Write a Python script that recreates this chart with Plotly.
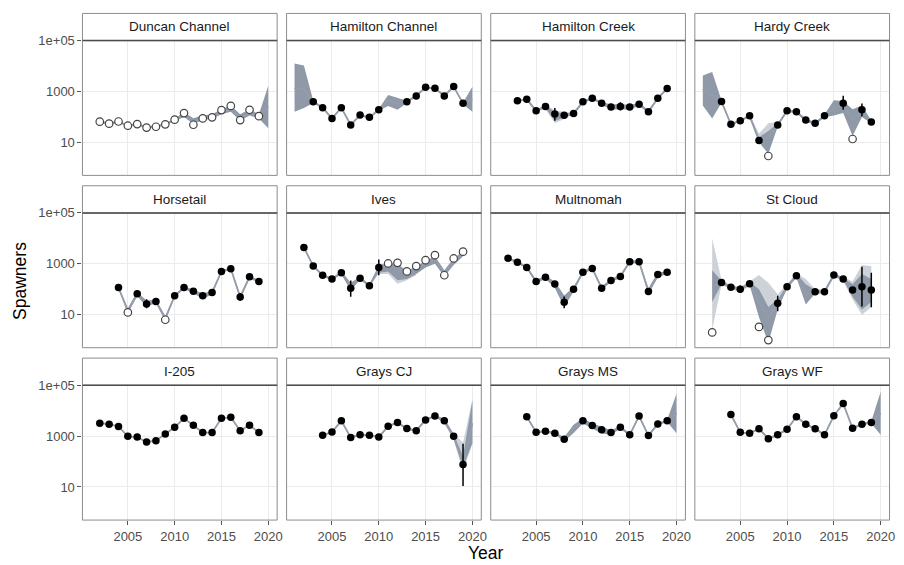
import numpy as np
import plotly.graph_objects as go

# ---------------- data ----------------
panel_names = ["Duncan Channel", "Hamilton Channel", "Hamilton Creek", "Hardy Creek",
               "Horsetail", "Ives", "Multnomah", "St Cloud",
               "I-205", "Grays CJ", "Grays MS", "Grays WF"]
x_ticks = [2005, 2010, 2015, 2020]
y_ticks = [10, 1000, 100000]
y_tick_text = ["10", "1000", "1e+05"]

# Duncan Channel
dc_fill_years, dc_fill = [], []
dc_open_years = list(range(2002, 2020))
dc_open = [65, 54, 66, 45, 52, 38, 41, 51, 78, 141, 49, 87, 96, 185, 270, 75, 190, 107]
dc_err_years, dc_err_lo, dc_err_hi = [], [], []
dc_fit_years = list(range(2002, 2021))
dc_fit_log10 = [1.81, 1.74, 1.81, 1.66, 1.71, 1.59, 1.62, 1.71, 1.88, 2.10, 1.78, 1.96, 2.01, 2.20, 2.33, 1.97, 2.18, 2.02, 2.40]
dc_lo_log10 = [1.77, 1.70, 1.77, 1.62, 1.67, 1.55, 1.58, 1.67, 1.83, 2.00, 1.72, 1.88, 1.93, 2.10, 2.20, 1.85, 2.05, 1.94, 1.55]
dc_hi_log10 = [1.85, 1.78, 1.85, 1.70, 1.75, 1.63, 1.66, 1.75, 1.93, 2.18, 1.95, 2.05, 2.10, 2.30, 2.45, 2.10, 2.30, 2.10, 3.22]
dc_light_years, dc_light_lo_log10, dc_light_hi_log10 = [], [], []

# Hamilton Channel
hc_fill_years = [2003, 2004, 2005, 2006, 2007, 2008, 2009, 2010, 2013, 2014, 2015, 2016, 2017, 2018, 2019]
hc_fill = [390, 230, 87, 230, 48, 118, 96, 190, 390, 670, 1450, 1330, 670, 1550, 340]
hc_open_years, hc_open = [], []
hc_err_years, hc_err_lo, hc_err_hi = [], [], []
hc_fit_years = list(range(2001, 2021))
hc_fit_log10 = [3.10, 3.10, 2.59, 2.36, 1.94, 2.36, 1.68, 2.07, 1.98, 2.28, 2.65, 2.52, 2.59, 2.83, 3.16, 3.12, 2.83, 3.19, 2.53, 2.70]
hc_lo_log10 = [2.20, 2.35, 2.55, 2.32, 1.90, 2.32, 1.64, 2.03, 1.94, 2.24, 2.43, 2.28, 2.55, 2.79, 3.12, 3.08, 2.79, 3.15, 2.49, 2.20]
hc_hi_log10 = [4.10, 4.02, 2.63, 2.40, 1.98, 2.40, 1.72, 2.11, 2.02, 2.32, 2.86, 2.76, 2.63, 2.87, 3.20, 3.16, 2.87, 3.23, 2.57, 3.18]
hc_light_years, hc_light_lo_log10, hc_light_hi_log10 = [], [], []

# Hamilton Creek
hk_fill_years = list(range(2003, 2020))
hk_fill = [427, 490, 174, 257, 129, 117, 136, 390, 540, 344, 247, 257, 247, 316, 158, 540, 1320]
hk_open_years, hk_open = [], []
hk_err_years, hk_err_lo, hk_err_hi = [2007, 2014], [71, 178], [224, 372]
hk_fit_years = list(range(2003, 2020))
hk_fit_log10 = [2.63, 2.69, 2.24, 2.41, 2.10, 2.07, 2.13, 2.59, 2.73, 2.54, 2.39, 2.41, 2.39, 2.50, 2.20, 2.73, 3.12]
hk_lo_log10 = [2.59, 2.65, 2.19, 2.35, 1.85, 1.98, 2.07, 2.54, 2.69, 2.48, 2.29, 2.29, 2.29, 2.44, 2.14, 2.68, 3.08]
hk_hi_log10 = [2.67, 2.73, 2.29, 2.47, 2.18, 2.14, 2.19, 2.64, 2.77, 2.59, 2.49, 2.51, 2.47, 2.55, 2.27, 2.78, 3.16]
hk_light_years = [2006, 2007, 2008]
hk_light_lo_log10 = [2.30, 1.75, 1.92]
hk_light_hi_log10 = [2.50, 2.25, 2.20]

# Hardy Creek
hd_fill_years = [2003, 2004, 2005, 2006, 2007, 2009, 2010, 2011, 2012, 2013, 2014, 2016, 2018, 2019]
hd_fill = [400, 51, 71, 110, 11.7, 48, 174, 158, 75, 56, 110, 346, 190, 63]
hd_open_years, hd_open = [2008, 2017], [2.9, 13.5]
hd_err_years, hd_err_lo, hd_err_hi = [2016, 2018], [191, 105], [676, 339]
hd_fit_years = list(range(2001, 2020))
hd_fit_log10 = [3.10, 2.85, 2.60, 1.71, 1.85, 2.04, 1.07, 1.20, 1.68, 2.24, 2.20, 1.87, 1.74, 2.04, 2.35, 2.45, 1.90, 2.25, 1.80]
hd_lo_log10 = [2.45, 1.94, 2.56, 1.66, 1.81, 1.99, 1.00, 0.55, 1.61, 2.19, 2.15, 1.81, 1.69, 1.99, 2.05, 2.15, 1.25, 2.00, 1.75]
hd_hi_log10 = [3.63, 3.76, 2.64, 1.76, 1.89, 2.09, 1.20, 1.45, 1.74, 2.29, 2.25, 1.94, 1.79, 2.09, 2.65, 2.62, 2.30, 2.45, 1.85]
hd_light_years = [2006, 2007, 2008, 2009]
hd_light_lo_log10 = [1.98, 1.00, 1.20, 1.60]
hd_light_hi_log10 = [2.10, 1.35, 1.75, 1.80]

# Horsetail
hs_fill_years = [2004, 2006, 2007, 2008, 2010, 2011, 2012, 2013, 2014, 2015, 2016, 2017, 2018, 2019]
hs_fill = [116, 66, 26, 33, 55, 116, 83, 55, 74, 500, 640, 49, 310, 200]
hs_open_years, hs_open = [2005, 2009], [12.3, 6.3]
hs_err_years, hs_err_lo, hs_err_hi = [2006, 2007, 2017], [50, 18, 35], [89, 40, 71]
hs_fit_years = list(range(2004, 2020))
hs_fit_log10 = [2.065, 1.15, 1.82, 1.45, 1.52, 0.85, 1.74, 2.065, 1.92, 1.74, 1.87, 2.70, 2.81, 1.69, 2.49, 2.30]
hs_lo_log10 = [2.03, 1.05, 1.72, 1.32, 1.45, 0.75, 1.69, 2.01, 1.84, 1.63, 1.79, 2.65, 2.77, 1.61, 2.43, 2.25]
hs_hi_log10 = [2.10, 1.25, 1.90, 1.55, 1.60, 0.95, 1.79, 2.11, 1.99, 1.83, 1.94, 2.75, 2.85, 1.77, 2.54, 2.35]
hs_light_years, hs_light_lo_log10, hs_light_hi_log10 = [], [], []

# Ives
iv_fill_years = list(range(2002, 2011))
iv_fill = [4340, 810, 355, 253, 445, 110, 270, 138, 720]
iv_open_years = list(range(2011, 2020))
iv_open = [1030, 1090, 500, 810, 1390, 2180, 355, 1620, 3000]
iv_err_years, iv_err_lo, iv_err_hi = [2007, 2010], [51, 355], [219, 1480]
iv_fit_years = list(range(2002, 2020))
iv_fit_log10 = [3.64, 2.91, 2.55, 2.40, 2.65, 2.10, 2.43, 2.14, 2.80, 2.95, 2.85, 2.62, 2.80, 3.00, 3.20, 2.62, 3.10, 3.40]
iv_lo_log10 = [3.61, 2.87, 2.50, 2.35, 2.59, 1.95, 2.37, 2.09, 2.65, 2.70, 2.35, 2.40, 2.60, 2.85, 3.00, 2.50, 2.95, 3.30]
iv_hi_log10 = [3.67, 2.95, 2.59, 2.45, 2.71, 2.25, 2.49, 2.19, 2.95, 3.02, 3.00, 2.72, 2.90, 3.12, 3.30, 2.75, 3.22, 3.48]
iv_light_years = [2010, 2011, 2012, 2013, 2014]
iv_light_lo_log10 = [2.60, 2.60, 2.22, 2.35, 2.55]
iv_light_hi_log10 = [2.95, 3.00, 2.95, 2.70, 2.90]

# Multnomah
mu_fill_years = list(range(2002, 2020))
mu_fill = [1660, 1150, 720, 200, 295, 160, 31, 100, 470, 660, 110, 218, 315, 1200, 1200, 81, 380, 460]
mu_open_years, mu_open = [], []
mu_err_years, mu_err_lo, mu_err_hi = [2008], [18], [52]
mu_fit_years = list(range(2002, 2020))
mu_fit_log10 = [3.22, 3.06, 2.86, 2.30, 2.47, 2.20, 1.50, 2.00, 2.67, 2.82, 2.04, 2.34, 2.50, 3.08, 3.08, 1.91, 2.58, 2.66]
mu_lo_log10 = [3.18, 3.01, 2.81, 2.23, 2.41, 2.05, 1.30, 1.91, 2.61, 2.77, 1.98, 2.28, 2.44, 3.03, 3.01, 1.80, 2.46, 2.61]
mu_hi_log10 = [3.26, 3.11, 2.91, 2.37, 2.53, 2.30, 1.75, 2.09, 2.73, 2.87, 2.11, 2.41, 2.57, 3.13, 3.13, 2.05, 2.66, 2.71]
mu_light_years, mu_light_lo_log10, mu_light_hi_log10 = [], [], []

# St Cloud
sc_fill_years = [2003, 2004, 2005, 2006, 2009, 2010, 2011, 2013, 2014, 2015, 2016, 2017, 2018, 2019]
sc_fill = [185, 120, 100, 165, 28, 125, 340, 80, 80, 360, 250, 94, 125, 94]
sc_open_years, sc_open = [2002, 2007, 2008], [2.0, 3.3, 1.0]
sc_err_years = [2005, 2009, 2018, 2019]
sc_err_lo = [71, 13.5, 21, 19.5]
sc_err_hi = [141, 56, 760, 447]
sc_fit_years = list(range(2002, 2020))
sc_fit_log10 = [2.10, 2.27, 2.08, 2.00, 2.22, 1.50, 0.90, 1.45, 2.10, 2.53, 1.80, 1.90, 1.90, 2.56, 2.40, 1.97, 2.10, 1.97]
sc_lo_log10 = [1.50, 2.21, 2.03, 1.94, 2.16, 0.90, -0.10, 1.20, 2.03, 2.46, 1.40, 1.83, 1.85, 2.51, 2.35, 1.70, 1.20, 1.50]
sc_hi_log10 = [2.75, 2.33, 2.13, 2.06, 2.28, 2.00, 1.30, 1.60, 2.17, 2.60, 2.20, 1.97, 1.95, 2.61, 2.45, 2.20, 2.60, 2.40]
sc_light_years = list(range(2002, 2020))
sc_light_lo_log10 = [0.40, 2.18, 2.00, 1.90, 2.12, 1.60, 1.00, 1.35, 2.00, 2.45, 1.60, 1.80, 1.82, 2.48, 2.32, 1.60, 1.00, 1.30]
sc_light_hi_log10 = [4.00, 2.36, 2.16, 2.10, 2.30, 2.56, 2.25, 1.80, 2.20, 2.62, 2.40, 2.00, 1.98, 2.64, 2.48, 2.30, 2.95, 2.90]

# I-205
i2_fill_years = list(range(2002, 2020))
i2_fill = [3240, 2950, 2400, 980, 920, 585, 660, 1200, 2240, 5000, 2690, 1390, 1390, 5000, 5500, 1620, 2690, 1390]
i2_open_years, i2_open = [], []
i2_err_years, i2_err_lo, i2_err_hi = [], [], []
i2_fit_years = list(range(2002, 2020))
i2_fit_log10 = [3.51, 3.47, 3.38, 2.99, 2.96, 2.77, 2.82, 3.08, 3.35, 3.70, 3.43, 3.14, 3.14, 3.70, 3.74, 3.21, 3.43, 3.14]
i2_lo_log10 = [3.50, 3.46, 3.37, 2.98, 2.95, 2.76, 2.81, 3.07, 3.34, 3.69, 3.42, 3.13, 3.13, 3.69, 3.73, 3.20, 3.42, 3.13]
i2_hi_log10 = [3.52, 3.48, 3.39, 3.00, 2.97, 2.78, 2.83, 3.09, 3.36, 3.71, 3.44, 3.15, 3.15, 3.71, 3.75, 3.22, 3.44, 3.15]
i2_light_years, i2_light_lo_log10, i2_light_hi_log10 = [], [], []

# Grays CJ
gc_fill_years = list(range(2004, 2020))
gc_fill = [1070, 1440, 4000, 890, 1120, 1070, 920, 2450, 3400, 1990, 1620, 4340, 6200, 4000, 980, 76]
gc_open_years, gc_open = [], []
gc_err_years, gc_err_lo, gc_err_hi = [2019], [11], [500]
gc_fit_years = list(range(2004, 2021))
gc_fit_log10 = [3.03, 3.16, 3.60, 2.95, 3.05, 3.03, 2.96, 3.39, 3.53, 3.30, 3.21, 3.64, 3.79, 3.60, 2.99, 1.90, 3.50]
gc_lo_log10 = [3.00, 3.13, 3.56, 2.91, 3.01, 3.00, 2.92, 3.35, 3.49, 3.26, 3.17, 3.60, 3.75, 3.52, 2.90, 1.80, 2.73]
gc_hi_log10 = [3.06, 3.19, 3.64, 2.99, 3.09, 3.06, 3.00, 3.43, 3.57, 3.34, 3.25, 3.68, 3.83, 3.68, 3.08, 2.20, 4.40]
gc_light_years = [2017, 2018, 2019, 2020]
gc_light_lo_log10 = [3.50, 2.85, 1.60, 2.70]
gc_light_hi_log10 = [3.70, 3.10, 2.75, 4.45]

# Grays MS
gm_fill_years = [2004, 2005, 2006, 2007, 2008, 2010, 2011, 2012, 2013, 2014, 2015, 2016, 2017, 2018, 2019]
gm_fill = [5800, 1410, 1540, 1290, 760, 4000, 2600, 1780, 1380, 2240, 1120, 6200, 1050, 3000, 4000]
gm_open_years, gm_open = [], []
gm_err_years, gm_err_lo, gm_err_hi = [2012], [1320], [2400]
gm_fit_years = list(range(2004, 2021))
gm_fit_log10 = [3.76, 3.15, 3.19, 3.11, 2.88, 3.30, 3.60, 3.41, 3.25, 3.14, 3.35, 3.05, 3.79, 3.02, 3.48, 3.60, 3.90]
gm_lo_log10 = [3.73, 3.11, 3.15, 3.06, 2.80, 3.12, 3.50, 3.30, 3.10, 3.05, 3.29, 3.00, 3.74, 2.97, 3.43, 3.56, 3.11]
gm_hi_log10 = [3.79, 3.19, 3.23, 3.16, 2.96, 3.45, 3.70, 3.50, 3.38, 3.22, 3.41, 3.10, 3.84, 3.07, 3.53, 3.64, 4.67]
gm_light_years, gm_light_lo_log10, gm_light_hi_log10 = [], [], []

# Grays WF
gw_fill_years = list(range(2004, 2020))
gw_fill = [7100, 1410, 1290, 1950, 790, 1120, 1860, 5800, 2950, 1950, 1120, 6300, 19000, 2040, 2950, 3470]
gw_open_years, gw_open = [], []
gw_err_years, gw_err_lo, gw_err_hi = [], [], []
gw_fit_years = list(range(2004, 2021))
gw_fit_log10 = [3.85, 3.15, 3.11, 3.29, 2.90, 3.05, 3.27, 3.76, 3.47, 3.29, 3.05, 3.80, 4.28, 3.31, 3.47, 3.54, 3.90]
gw_lo_log10 = [3.83, 3.12, 3.08, 3.25, 2.85, 3.01, 3.23, 3.72, 3.43, 3.25, 3.01, 3.76, 4.24, 3.27, 3.43, 3.50, 3.05]
gw_hi_log10 = [3.87, 3.18, 3.14, 3.33, 2.95, 3.09, 3.31, 3.80, 3.51, 3.33, 3.09, 3.84, 4.32, 3.35, 3.51, 3.58, 4.74]
gw_light_years, gw_light_lo_log10, gw_light_hi_log10 = [], [], []

prefixes = ["dc", "hc", "hk", "hd", "hs", "iv", "mu", "sc", "i2", "gc", "gm", "gw"]
g = globals()
panels = []
for p in prefixes:
    panels.append({k: g[f"{p}_{k}"] for k in [
        "fill_years", "fill", "open_years", "open", "err_years", "err_lo", "err_hi",
        "fit_years", "fit_log10", "lo_log10", "hi_log10",
        "light_years", "light_lo_log10", "light_hi_log10"]})

# ---------------- layout ----------------
W, H = 904, 565
col_left = [83, 288.5, 494, 699.5]
pw = 196
row_top = [34, 208.5, 383]
ph = 136.5
strip_h = 27.5
FONT = "Liberation Sans, Arial, sans-serif"

DARK = "#8f99a7"
LIGHT = "#cdd2d9"
LINE = "#939dab"

fig = go.Figure()
shapes, annotations = [], []
layout = {}


def band(xs, lo, hi):
    xs = list(xs)
    return xs + xs[::-1], list(10 ** np.array(hi)) + list(10 ** np.array(lo))[::-1]


for i, (name, d) in enumerate(zip(panel_names, panels)):
    r, c = divmod(i, 4)
    n = i + 1
    xa = "x" if n == 1 else f"x{n}"
    ya = "y" if n == 1 else f"y{n}"
    l = col_left[c]
    t = row_top[r]
    layout[f"xaxis{'' if n == 1 else n}"] = dict(
        domain=[l / W, (l + pw) / W], anchor=ya, range=[2000.15, 2020.95],
        tickvals=x_ticks, showticklabels=(r == 2), ticks="outside" if r == 2 else "",
        ticklen=4, tickwidth=1, tickcolor="#555555",
        tickfont=dict(family=FONT, size=13, color="#4d4d4d"),
        showgrid=True, gridcolor="#ebebeb", gridwidth=1, zeroline=False, showline=False,
        fixedrange=True)
    layout[f"yaxis{'' if n == 1 else n}"] = dict(
        domain=[1 - (t + ph) / H, 1 - t / H], anchor=xa, type="log", range=[-0.3, 5.0],
        tickvals=y_ticks, ticktext=y_tick_text, showticklabels=(c == 0),
        ticks="outside" if c == 0 else "", ticklen=4, tickwidth=1, tickcolor="#555555",
        tickfont=dict(family=FONT, size=13, color="#4d4d4d"),
        showgrid=True, gridcolor="#ebebeb", gridwidth=1, zeroline=False, showline=False,
        fixedrange=True)

    # light ribbon
    if d["light_years"]:
        bx, by = band(d["light_years"], d["light_lo_log10"], d["light_hi_log10"])
        fig.add_trace(go.Scatter(x=bx, y=by, xaxis=xa, yaxis=ya, mode="lines", fill="toself",
                                 fillcolor=LIGHT, line=dict(width=0), hoverinfo="skip"))
    # dark ribbon
    bx, by = band(d["fit_years"], d["lo_log10"], d["hi_log10"])
    fig.add_trace(go.Scatter(x=bx, y=by, xaxis=xa, yaxis=ya, mode="lines", fill="toself",
                             fillcolor=DARK, line=dict(width=0), hoverinfo="skip"))
    # fitted line
    fig.add_trace(go.Scatter(x=d["fit_years"], y=10 ** np.array(d["fit_log10"]), xaxis=xa, yaxis=ya,
                             mode="lines", line=dict(color=LINE, width=1.8), hoverinfo="skip"))
    # error bars
    if d["err_years"]:
        ex, ey = [], []
        for yr, lo, hi in zip(d["err_years"], d["err_lo"], d["err_hi"]):
            ex += [yr, yr, None]
            ey += [lo, hi, None]
        fig.add_trace(go.Scatter(x=ex, y=ey, xaxis=xa, yaxis=ya, mode="lines",
                                 line=dict(color="black", width=1.5), hoverinfo="skip"))
    # open points
    if d["open_years"]:
        fig.add_trace(go.Scatter(x=d["open_years"], y=d["open"], xaxis=xa, yaxis=ya, mode="markers",
                                 marker=dict(size=7.5, color="white", line=dict(color="#444444", width=1.2))))
    # filled points
    if d["fill_years"]:
        fig.add_trace(go.Scatter(x=d["fill_years"], y=d["fill"], xaxis=xa, yaxis=ya, mode="markers",
                                 marker=dict(size=7.5, color="black", line=dict(width=0))))

    # panel border
    shapes.append(dict(type="rect", xref="paper", yref="paper", x0=l / W, x1=(l + pw) / W,
                       y0=1 - (t + ph) / H, y1=1 - t / H, line=dict(color="#8c8c8c", width=1),
                       fillcolor="rgba(0,0,0,0)", layer="above"))
    # strip
    shapes.append(dict(type="rect", xref="paper", yref="paper", x0=l / W, x1=(l + pw) / W,
                       y0=1 - t / H, y1=1 - (t - strip_h) / H, line=dict(color="#8c8c8c", width=1),
                       fillcolor="white", layer="above"))
    shapes.append(dict(type="line", xref="paper", yref="paper", x0=l / W, x1=(l + pw) / W,
                       y0=1 - t / H, y1=1 - t / H, line=dict(color="#4d4d4d", width=1.5), layer="above"))
    annotations.append(dict(text=name, xref="paper", yref="paper", x=(l + pw / 2) / W,
                            y=1 - (t - strip_h / 2) / H, showarrow=False, xanchor="center", yanchor="middle",
                            font=dict(family=FONT, size=13.5, color="#1a1a1a")))

annotations.append(dict(text="Year", xref="paper", yref="paper", x=489.5 / W, y=1 - 553 / H,
                        showarrow=False, xanchor="center", yanchor="middle",
                        font=dict(family=FONT, size=17.5, color="black")))
annotations.append(dict(text="Spawners", xref="paper", yref="paper", x=19.5 / W, y=1 - 277 / H,
                        showarrow=False, xanchor="center", yanchor="middle", textangle=-90,
                        font=dict(family=FONT, size=17.5, color="black")))

fig.update_layout(**layout)
fig.update_layout(width=W, height=H, margin=dict(l=0, r=0, t=0, b=0), showlegend=False,
                  paper_bgcolor="white", plot_bgcolor="white", shapes=shapes, annotations=annotations,
                  font=dict(family=FONT))

# pin the figure to the page's top-left corner (no default body margin)
pin_js = ("document.body.style.margin='0';document.body.style.overflow='hidden';"
          "var gd=document.getElementById('{plot_id}');"
          "gd.style.position='absolute';gd.style.left='0px';gd.style.top='0px';")
fig.write_html("out.html", post_script=pin_js, config={"displayModeBar": False})
